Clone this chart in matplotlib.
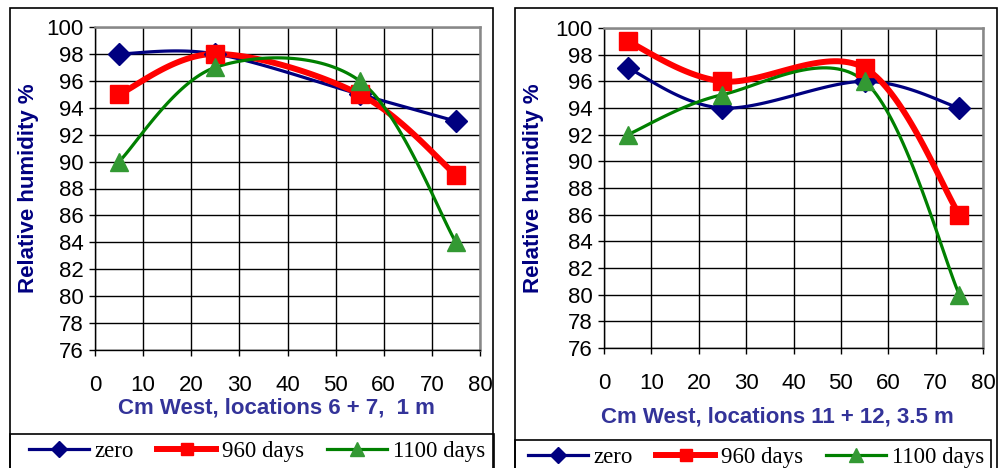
import numpy as np
import matplotlib
matplotlib.use("Agg")
import matplotlib.pyplot as plt
from matplotlib.patches import Rectangle
from matplotlib.lines import Line2D

# Measurement positions (cm west) and relative humidity readings
positions = [5, 25, 55, 75]

left_zero = [98, 98, 95, 93]
left_960 = [95, 98, 95, 89]
left_1100 = [90, 97, 96, 84]

right_zero = [97, 94, 96, 94]
right_960 = [99, 96, 97, 86]
right_1100 = [92, 95, 96, 80]

series_names = ["zero", "960 days", "1100 days"]
y_ticks = list(range(76, 101, 2))
x_ticks = list(range(0, 81, 10))

W, H = 998, 468

STYLES = [
    dict(color="#000080", lw=2.3, marker="D", ms=11.5, mfc="#000080"),
    dict(color="#FF0000", lw=4.3, marker="s", ms=12.5, mfc="#FF0000"),
    dict(color="#008000", lw=2.3, marker="^", ms=13.5, mfc="#339933"),
]


def fx(px):
    return px / W


def fy(py):
    return 1 - py / H


def smooth(xs, ys, n=40):
    # Bezier smoothing through the points, like a spreadsheet "smoothed line"
    pts = np.column_stack([xs, ys]).astype(float)
    p = np.vstack([pts[0], pts, pts[-1]])
    t = np.linspace(0, 1, n)[:, None]
    out = []
    for i in range(1, len(p) - 2):
        p0, p1, p2, p3 = p[i - 1], p[i], p[i + 1], p[i + 2]
        c1 = p1 + (p2 - p0) / 6
        c2 = p2 - (p3 - p1) / 6
        seg = (1 - t) ** 3 * p1 + 3 * (1 - t) ** 2 * t * c1 + 3 * (1 - t) * t ** 2 * c2 + t ** 3 * p2
        out.append(seg)
    return np.vstack(out)


def draw_panel(fig, box, data, xlabel, xlabel_pos, ylabel_x, frame, legend_box, legend_center):
    x0, y0, x1, y1 = box
    ax = fig.add_axes([fx(x0), fy(y1), fx(x1) - fx(x0), fy(y0) - fy(y1)])

    for values, st in zip(data, STYLES):
        curve = smooth(positions, values)
        ax.plot(curve[:, 0], curve[:, 1], color=st["color"], lw=st["lw"],
                solid_capstyle="round", zorder=3)
        ax.plot(positions, values, ls="none", marker=st["marker"], ms=st["ms"],
                mfc=st["mfc"], mec=st["mfc"], zorder=4, clip_on=False)

    ax.set_xlim(0, 80)
    ax.set_ylim(76, 100)
    ax.set_xticks(x_ticks)
    ax.set_yticks(y_ticks)
    ax.grid(True, color="#000000", lw=1.0)
    ax.set_axisbelow(True)
    for s in ["top", "right"]:
        ax.spines[s].set_color("#888888")
        ax.spines[s].set_linewidth(1.8)
    for s in ["left", "bottom"]:
        ax.spines[s].set_color("black")
        ax.spines[s].set_linewidth(1.0)
    ax.tick_params(axis="both", direction="out", length=4, width=1,
                   labelsize=16, colors="black")
    ax.tick_params(axis="x", pad=14)
    ax.tick_params(axis="y", pad=4)
    for lab in ax.get_xticklabels() + ax.get_yticklabels():
        lab.set_fontfamily("Liberation Sans")

    fig.text(fx(xlabel_pos[0]), fy(xlabel_pos[1]), xlabel, ha="center", va="center",
             fontsize=16, fontweight="bold", color="#333399", family="Liberation Sans")
    fig.text(fx(ylabel_x), fy((y0 + y1) / 2), "Relative humidity %", ha="center", va="center",
             rotation=90, fontsize=16, fontweight="bold", color="#000080",
             family="Liberation Sans")

    # Outer chart frame and legend box
    fx0, fy0, fx1, fy1 = frame
    fig.add_artist(Rectangle((fx(fx0), fy(fy1)), fx(fx1) - fx(fx0), fy(fy0) - fy(fy1),
                             transform=fig.transFigure, fill=False, ec="black", lw=1.2))
    lx0, ly0, lx1, ly1 = legend_box
    fig.add_artist(Rectangle((fx(lx0), fy(ly1)), fx(lx1) - fx(lx0), fy(ly0) - fy(ly1),
                             transform=fig.transFigure, fill=False, ec="black", lw=1.2))

    handles = [Line2D([], [], color=st["color"], lw=st["lw"], marker=st["marker"],
                      ms=st["ms"] * 0.7, mfc=st["mfc"], mec=st["mfc"]) for st in STYLES]
    fig.legend(handles, series_names, loc="center", ncol=3, frameon=False,
               bbox_to_anchor=(fx(legend_center[0]), fy(legend_center[1])),
               handlelength=2.6, handletextpad=0.25, columnspacing=1.0,
               prop={"family": "Liberation Serif", "size": 16.5})
    return ax


fig = plt.figure(figsize=(W / 100, H / 100), dpi=100)

draw_panel(fig, (95, 27, 480, 350), [left_zero, left_960, left_1100],
           "Cm West, locations 6 + 7,  1 m", (276, 408), 29,
           (10, 8, 493, 480), (10, 434, 494, 480), (257, 451))
draw_panel(fig, (604, 28, 983, 348), [right_zero, right_960, right_1100],
           "Cm West, locations 11 + 12, 3.5 m", (777, 417), 533,
           (515, 8, 997, 480), (515, 440, 991, 480), (756, 457))

fig.savefig("out.png", dpi=100)
